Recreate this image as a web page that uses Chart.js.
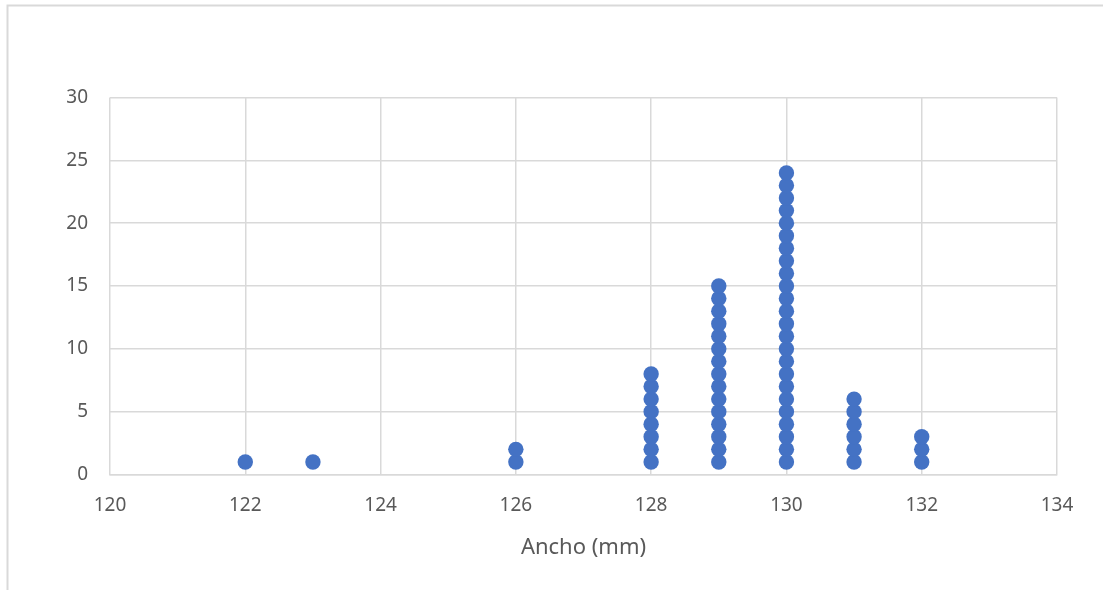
<!DOCTYPE html>
<html>
<head>
<meta charset="utf-8">
<script src="https://cdn.jsdelivr.net/npm/chart.js@4.4.0/dist/chart.umd.min.js"></script>
<style>
html,body{margin:0;padding:0;background:#fff;}
#wrap{width:1103px;height:590px;position:relative;}
</style>
</head>
<body>
<div id="wrap"><canvas id="c" width="1103" height="590"></canvas></div>
<script>
// Widths (mm) and how many pieces at each width (dot plot stacks)
const widths = [122, 123, 126, 128, 129, 130, 131, 132];
const counts = [1, 1, 2, 8, 15, 24, 6, 3];
const xTicks = [120, 122, 124, 126, 128, 130, 132, 134];
const yTicks = [0, 5, 10, 15, 20, 25, 30];
const xTitle = 'Ancho (mm)';

const points = [];
widths.forEach((w, i) => {
  for (let k = 1; k <= counts[i]; k++) points.push({x: w, y: k});
});

const frame = {
  id: 'frame',
  beforeDraw(chart) {
    const ctx = chart.ctx;
    ctx.save();
    ctx.fillStyle = '#ffffff';
    ctx.fillRect(0, 0, chart.width, chart.height);
    ctx.strokeStyle = '#D9D9D9';
    ctx.lineWidth = 2;
    ctx.strokeRect(7.5, 5.5, 1200, 700);
    ctx.restore();
  }
};

const FONT = "'Noto Sans', 'Open Sans', sans-serif";
new Chart(document.getElementById('c'), {
  type: 'scatter',
  data: {
    datasets: [{
      data: points,
      pointRadius: 7.7,
      pointHoverRadius: 7.7,
      pointBackgroundColor: '#4472C4',
      pointBorderWidth: 0,
      showLine: false
    }]
  },
  plugins: [frame],
  options: {
    responsive: false,
    animation: false,
    layout: {padding: {top: 97.5, right: 46, left: 0, bottom: 0}},
    plugins: {legend: {display: false}, tooltip: {enabled: false}},
    scales: {
      x: {
        type: 'linear',
        min: xTicks[0], max: xTicks[xTicks.length - 1],
        afterBuildTicks(s) { s.ticks = xTicks.map(v => ({value: v})); },
        afterFit(s) { s.height = 115.5; },
        grid: {color: '#D9D9D9', lineWidth: 1.5, drawTicks: false},
        border: {color: '#D9D9D9', width: 1.5},
        ticks: {color: '#595959', font: {family: FONT, size: 19}, padding: 20, maxRotation: 0},
        title: {display: true, text: xTitle, color: '#595959', font: {family: FONT, size: 22}, padding: {top: 4, bottom: 29}}
      },
      y: {
        type: 'linear',
        min: yTicks[0], max: yTicks[yTicks.length - 1],
        afterBuildTicks(s) { s.ticks = yTicks.map(v => ({value: v})); },
        afterFit(s) { s.width = 110; },
        grid: {color: '#D9D9D9', lineWidth: 1.5, drawTicks: false},
        border: {display: false},
        ticks: {color: '#595959', font: {family: FONT, size: 19}, padding: 22}
      }
    }
  }
});
</script>
</body>
</html>
